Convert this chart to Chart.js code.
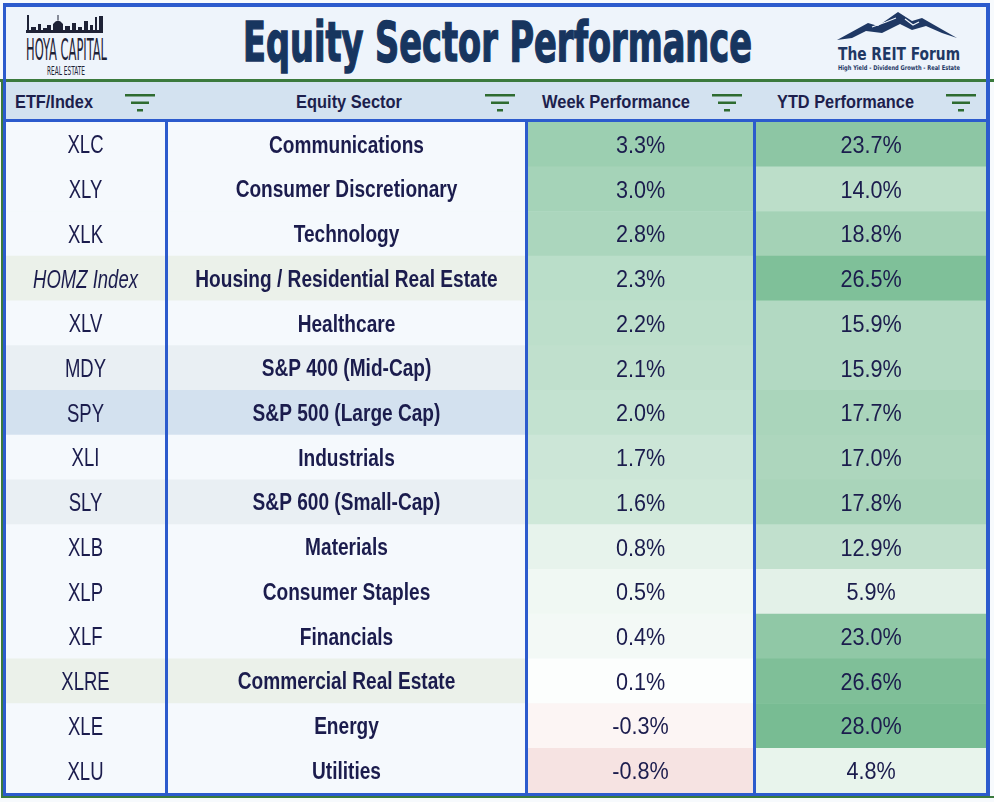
<!DOCTYPE html>
<html>
<head>
<meta charset="utf-8">
<title>Equity Sector Performance</title>
<script src="https://cdn.jsdelivr.net/npm/chart.js@4.4.1/dist/chart.umd.min.js"></script>
<style>
  html, body { margin:0; padding:0; width:994px; height:802px; overflow:hidden; background:#f7fafd; }
  #greenTop { position:absolute; left:0; top:79px; width:994px; height:3px; background:#3b7a3d; }
  #greenLeft { position:absolute; left:1px; top:79px; width:2px; height:719px; background:#3b7a3d; }
  #greenBottom { position:absolute; left:1px; top:796px; width:993px; height:2px; background:#3b7a3d; }
  #frame { position:absolute; left:3px; top:3px; width:987px; height:793px; box-sizing:border-box;
           border:solid #2c5bcd; border-width:4px 4px 3px 3px; background:#eef4fb; }
  #title { height:72px; background:#eef4fb; }
  .green { height:3px; background:#3b7a3d; }
  #head { height:37px; background:#d3e2f0; }
  .blue { height:3px; background:#2c5bcd; }
  #body { height:671px; display:flex; }
  .col { position:relative; height:671px; }
  .sep { width:3px; height:671px; background:#2c5bcd; }
  #deco { position:absolute; left:0; top:0; pointer-events:none; }
</style>
</head>
<body>
<div id="greenTop"></div>
<div id="greenLeft"></div>
<div id="greenBottom"></div>
<div id="frame">
  <div id="title"></div>
  <div class="green"></div>
  <div id="head"></div>
  <div class="blue"></div>
  <div id="body">
    <div class="col" style="width:159px"><canvas id="c-etf"></canvas></div>
    <div class="sep"></div>
    <div class="col" style="width:357px"><canvas id="c-sector"></canvas></div>
    <div class="sep"></div>
    <div class="col" style="width:225px"><canvas id="c-week"></canvas></div>
    <div class="sep"></div>
    <div class="col" style="width:230px"><canvas id="c-ytd"></canvas></div>
  </div>
</div>

<svg id="deco" width="994" height="122" xmlns="http://www.w3.org/2000/svg">
  <!-- Hoya Capital logo -->
  <path fill="#1e2236" d="M26 33 L26 30 L27 30 L27 15 L29 15 L29 30 L31 30 L31 27 L36 27 L36 30 L38 30 L38 24 L41 24 L41 30
    L43 30 L43 28 L47 28 L47 25 L51 25 L51 30 L53 30 L53 24 Q58 17 63 24 L63 30 L65 30 L65 26 L70 26 L70 30
    L72 30 L72 23 L76 23 L76 30 L78 30 L78 27 L82 27 L82 30 L84 30 L84 21 L88 21 L88 30 L90 30 L90 25 L93 25 L93 30
    L95 30 L95 17 L97 17 L97 30 L99 30 L99 16 L103 16 L103 33 Z"/>
  <rect x="57.5" y="15" width="1" height="5" fill="#1e2236"/>
  <text x="26" y="60" font-family="'Liberation Sans Narrow','DejaVu Sans Condensed','Liberation Sans'" font-size="31"
        fill="#1e2236" textLength="81" lengthAdjust="spacingAndGlyphs">HOYA CAPITAL</text>
  <text x="47" y="75" font-family="'Liberation Sans Narrow','DejaVu Sans Condensed','Liberation Sans'" font-size="13"
        fill="#1e2236" textLength="38" lengthAdjust="spacingAndGlyphs">REAL ESTATE</text>

  <!-- Title -->
  <text x="243" y="61" font-family="'Liberation Sans Narrow','DejaVu Sans Condensed','Liberation Sans'" font-weight="bold"
        font-size="55" fill="#17355f" stroke="#17355f" stroke-width="1.4"
        textLength="509" lengthAdjust="spacingAndGlyphs">Equity Sector Performance</text>

  <!-- The REIT Forum logo -->
  <path fill="#1f3864" d="M837 40 L868 23 L878 26 L898 12 L912 21 L922 18 L957 38 L942 33 L926 26 L912 30 L900 24 L882 33 L866 31 L852 38 Z"/>
  <path fill="none" stroke="#eef4fb" stroke-width="1.3" d="M872 27 L886 22 L896 18 M905 19 L913 25 L919 22"/>
  <text x="838" y="60" font-family="'DejaVu Sans','Liberation Sans'" font-weight="bold" font-size="18"
        fill="#1f3864" textLength="122" lengthAdjust="spacingAndGlyphs">The REIT Forum</text>
  <text x="838" y="70" font-family="'DejaVu Sans','Liberation Sans'" font-weight="bold" font-size="6.5"
        fill="#1f3864" textLength="122" lengthAdjust="spacingAndGlyphs">High Yield - Dividend Growth - Real Estate</text>

  <!-- Header labels -->
  <g font-family="'Liberation Sans', Arial, sans-serif" font-weight="bold" font-size="18" fill="#1d1f4d">
    <text x="15" y="108" textLength="78" lengthAdjust="spacingAndGlyphs">ETF/Index</text>
    <text x="296" y="108" textLength="106" lengthAdjust="spacingAndGlyphs">Equity Sector</text>
    <text x="542" y="108" textLength="148" lengthAdjust="spacingAndGlyphs">Week Performance</text>
    <text x="777" y="108" textLength="137" lengthAdjust="spacingAndGlyphs">YTD Performance</text>
  </g>
  <!-- Filter icons -->
  <g fill="#2e6b30">
    <rect x="125" y="94" width="30" height="2.5"/><rect x="131" y="101.5" width="18" height="2.5"/><rect x="137" y="109" width="6" height="2.5"/>
    <rect x="485" y="94" width="30" height="2.5"/><rect x="491" y="101.5" width="18" height="2.5"/><rect x="497" y="109" width="6" height="2.5"/>
    <rect x="712" y="94" width="30" height="2.5"/><rect x="718" y="101.5" width="18" height="2.5"/><rect x="724" y="109" width="6" height="2.5"/>
    <rect x="946" y="94" width="30" height="2.5"/><rect x="952" y="101.5" width="18" height="2.5"/><rect x="958" y="109" width="6" height="2.5"/>
  </g>
</svg>

<script>
'use strict';
// ── Data ──────────────────────────────────────────────────
const TICKERS = ['XLC','XLY','XLK','HOMZ Index','XLV','MDY','SPY','XLI','SLY','XLB','XLP','XLF','XLRE','XLE','XLU'];
const SECTORS = ['Communications','Consumer Discretionary','Technology','Housing / Residential Real Estate','Healthcare',
  'S&P 400 (Mid-Cap)','S&P 500 (Large Cap)','Industrials','S&P 600 (Small-Cap)','Materials','Consumer Staples',
  'Financials','Commercial Real Estate','Energy','Utilities'];
const WEEK = [3.3, 3.0, 2.8, 2.3, 2.2, 2.1, 2.0, 1.7, 1.6, 0.8, 0.5, 0.4, 0.1, -0.3, -0.8];
const YTD  = [23.7, 14.0, 18.8, 26.5, 15.9, 15.9, 17.7, 17.0, 17.8, 12.9, 5.9, 23.0, 26.6, 28.0, 4.8];

// ── Styles ────────────────────────────────────────────────
const INK = '#1b1c4d';
const ROW_TINT = { 'HOMZ Index':'#ebf1ea', MDY:'#e9eff3', SPY:'#d3e1ef', SLY:'#e9eff3', XLRE:'#ebf1ea' };
const ITALIC = new Set(['HOMZ Index']);
const WHITE = [255,255,255], GREEN_W = [156,207,177], RED_W = [246,227,226], GREEN_Y = [120,188,147];

const $ = id => document.getElementById(id);
const pct = v => v.toFixed(1) + '%';
const mix = (a, b, t) => `rgb(${a.map((c, i) => Math.round(c + (b[i] - c) * t)).join(',')})`;
const wMax = Math.max(...WEEK), wMin = Math.min(...WEEK), yMax = Math.max(...YTD);
const weekColor = v => v >= 0 ? mix(WHITE, GREEN_W, v / wMax) : mix(WHITE, RED_W, v / wMin);
const ytdColor  = v => mix(WHITE, GREEN_Y, v / yMax);
const tint = t => ROW_TINT[t] || '#f5f9fd';

// ── Cell text plugin ──────────────────────────────────────
const cellText = {
  id: 'cellText',
  afterDatasetsDraw(chart, args, o) {
    const ctx = chart.ctx;
    chart.getDatasetMeta(0).data.forEach((bar, i) => {
      const cx = (bar.x + bar.base) / 2;
      ctx.save();
      ctx.font = (o.italic && o.italic(i) ? 'italic ' : '') + o.font;
      ctx.fillStyle = INK;
      ctx.textAlign = 'center';
      ctx.textBaseline = 'alphabetic';
      ctx.translate(cx, bar.y + o.size * 0.716 / 2);
      ctx.scale(o.sx, 1);
      ctx.fillText(o.texts[i], 0, 0);
      ctx.restore();
    });
  }
};

function mkCol(id, texts, colors, text) {
  new Chart($(id).getContext('2d'), {
    type: 'bar',
    data: {
      labels: TICKERS,
      datasets: [{ data: TICKERS.map(() => [0, 1]), backgroundColor: colors, borderWidth: 0,
                   barPercentage: 1, categoryPercentage: 1 }]
    },
    options: {
      indexAxis: 'y', responsive: true, maintainAspectRatio: false, animation: false, events: [],
      layout: { padding: 0 },
      plugins: { legend: { display: false }, tooltip: { enabled: false }, cellText: { texts, ...text } },
      scales: {
        x: { type: 'linear', min: 0, max: 1, display: false },
        y: { display: false }
      }
    },
    plugins: [cellText]
  });
}

mkCol('c-etf', TICKERS, TICKERS.map(tint),
  { font: '25px "Liberation Sans", Arial, sans-serif', size: 25, sx: 0.74, italic: i => ITALIC.has(TICKERS[i]) });
mkCol('c-sector', SECTORS, TICKERS.map(tint),
  { font: 'bold 23px "Liberation Sans", Arial, sans-serif', size: 23, sx: 0.83 });
mkCol('c-week', WEEK.map(pct), WEEK.map(weekColor),
  { font: '24px "Liberation Sans", Arial, sans-serif', size: 24, sx: 0.9 });
mkCol('c-ytd', YTD.map(pct), YTD.map(ytdColor),
  { font: '24px "Liberation Sans", Arial, sans-serif', size: 24, sx: 0.9 });
</script>
</body>
</html>
